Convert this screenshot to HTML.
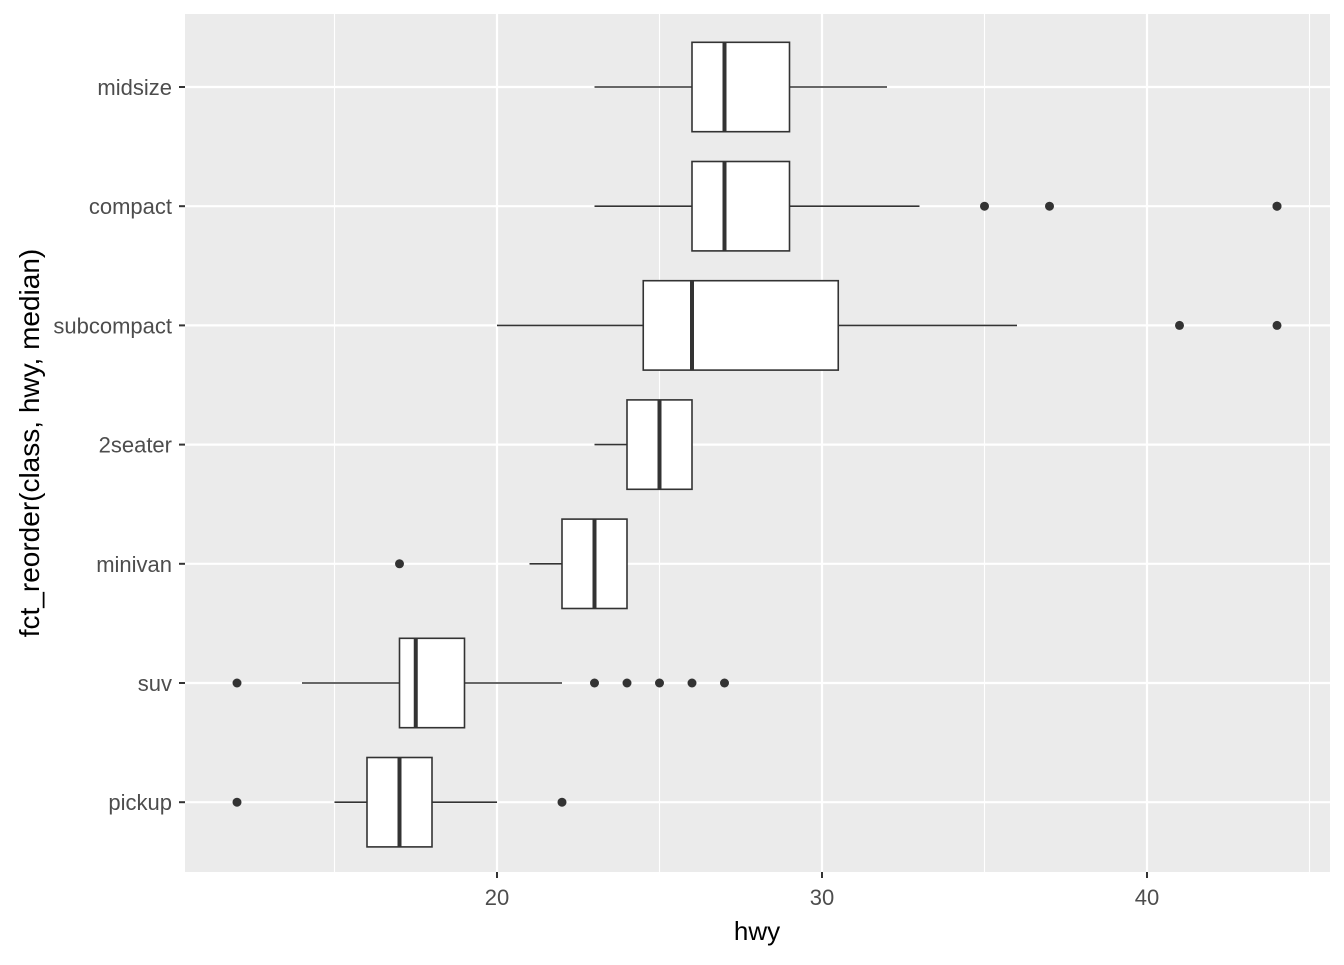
<!DOCTYPE html>
<html><head><meta charset="utf-8"><style>
body{margin:0;background:#fff;}
svg text{font-family:"Liberation Sans",Arial,sans-serif;}
</style></head><body>
<svg id="chart" width="1344" height="960" xmlns="http://www.w3.org/2000/svg">
<rect x="0" y="0" width="1344" height="960" fill="#fff"/>
<rect x="185" y="14" width="1145" height="858" fill="#EBEBEB"/>
<g id="grid"></g>
<g id="marks"></g>
<g id="axes"></g>
<text x="757" y="940" font-size="26" text-anchor="middle" fill="#000">hwy</text>
<text transform="translate(39,443) rotate(-90)" font-size="28" text-anchor="middle" fill="#000">fct_reorder(class, hwy, median)</text>
</svg>
<script>
const categories=["midsize","compact","subcompact","2seater","minivan","suv","pickup"];
const lowerWhisker=[23,23,20,23,21,14,15];
const q1=[26,26,24.5,24,22,17,16];
const medians=[27,27,26,25,23,17.5,17];
const q3=[29,29,30.5,26,24,19,18];
const upperWhisker=[32,33,36,26,24,22,20];
const outliers=[[],[35,37,44,44],[41,44],[],[17],[12,23,24,25,26,27],[12,22]];
const xTicks=[20,30,40];
const xMinor=[15,25,35,45];
const NS="http://www.w3.org/2000/svg";
const L=185,R=1330,T=14,B=872;
const xs=v=>497+(v-20)*32.5;
const ys=i=>87+i*119.2;
function mk(tag,attrs,parent){const e=document.createElementNS(NS,tag);for(const k in attrs)e.setAttribute(k,attrs[k]);parent.appendChild(e);return e;}
const grid=document.getElementById('grid'),marks=document.getElementById('marks'),axes=document.getElementById('axes');
xMinor.forEach(v=>{const l=mk('line',{x1:xs(v),x2:xs(v),y1:T,y2:B,stroke:'#fff','stroke-width':1.1},grid);

});
xTicks.forEach(v=>{const l=mk('line',{x1:xs(v),x2:xs(v),y1:T,y2:B,stroke:'#fff','stroke-width':2.2},grid);


const t=mk('line',{x1:xs(v),x2:xs(v),y1:B,y2:B+6,stroke:'#333','stroke-width':2},axes);


const tx=mk('text',{x:xs(v),y:B+33,'font-size':22,'text-anchor':'middle',fill:'#4D4D4D'},axes);tx.textContent=v;

});
categories.forEach((c,i)=>{const y=ys(i);
const g=mk('line',{x1:L,x2:R,y1:y,y2:y,stroke:'#fff','stroke-width':2.2},grid);


const t=mk('line',{x1:L-6,x2:L,y1:y,y2:y,stroke:'#333','stroke-width':2},axes);


const tx=mk('text',{x:L-13,y:y+8,'font-size':22,'text-anchor':'end',fill:'#4D4D4D'},axes);tx.textContent=c;


const grp=mk('g',{},marks);


mk('line',{x1:xs(lowerWhisker[i]),x2:xs(q1[i]),y1:y,y2:y,stroke:'#333','stroke-width':1.6},grp);
mk('line',{x1:xs(q3[i]),x2:xs(upperWhisker[i]),y1:y,y2:y,stroke:'#333','stroke-width':1.6},grp);
mk('rect',{x:xs(q1[i]),y:y-44.7,width:xs(q3[i])-xs(q1[i]),height:89.4,fill:'#fff',stroke:'#333','stroke-width':1.6},grp);
mk('line',{x1:xs(medians[i]),x2:xs(medians[i]),y1:y-44.7,y2:y+44.7,stroke:'#333','stroke-width':4},grp);
outliers[i].forEach(o=>{const p=mk('circle',{cx:xs(o),cy:y,r:4.5,fill:'#333'},grp);

});
});
</script>
</body></html>
